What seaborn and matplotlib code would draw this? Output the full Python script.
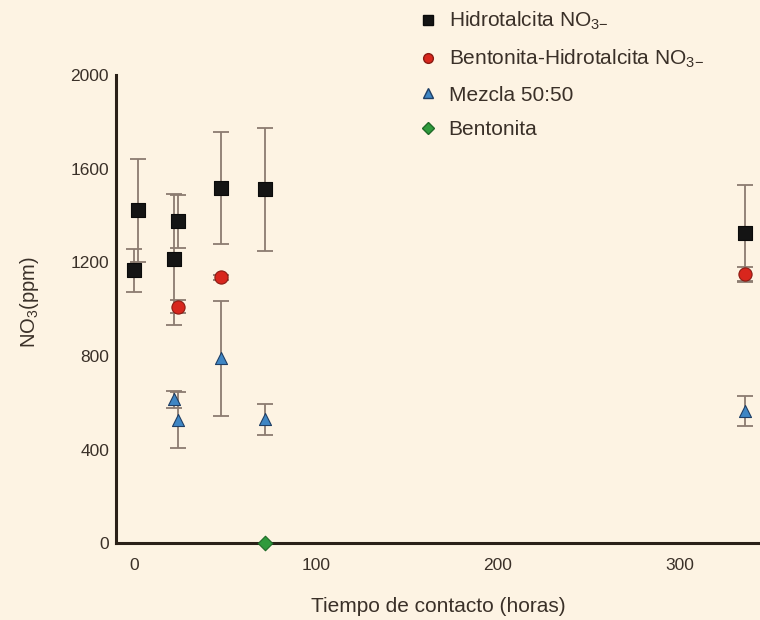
import numpy as np
import pandas as pd
import matplotlib
matplotlib.use("Agg")
import matplotlib.pyplot as plt
import seaborn as sns
from matplotlib.lines import Line2D

# ---- data ----
hidro_t = [0, 2, 22, 24, 48, 72, 336]
hidro_v = [1165, 1423, 1212, 1376, 1518, 1511, 1323]
hidro_e = [90, 220, 280, 113, 240, 262, 207]

bhidro_t = [24, 48, 336]
bhidro_v = [1010, 1135, 1150]
bhidro_e = [28, 10, 30]

mezcla_t = [22, 24, 48, 72, 336]
mezcla_v = [614, 526, 789, 529, 565]
mezcla_e = [35, 120, 245, 66, 64]

bento_t = [72]
bento_v = [0]
bento_e = [0]

labels = [r"Hidrotalcita NO$_{3\mathrm{-}}$",
          r"Bentonita-Hidrotalcita NO$_{3\mathrm{-}}$",
          "Mezcla 50:50",
          "Bentonita"]
xticks = [0, 100, 200, 300]
yticks = [0, 400, 800, 1200, 1600, 2000]

bg = "#fdf3e3"
sns.set_theme(style="white")
plt.rcParams['font.family'] = ['Liberation Sans', 'DejaVu Sans']
plt.rcParams['mathtext.fontset'] = 'custom'
plt.rcParams['mathtext.rm'] = 'Liberation Sans'
plt.rcParams['mathtext.it'] = 'Liberation Sans'
plt.rcParams['mathtext.bf'] = 'Liberation Sans'

frames = []
for lab, t, v, e in zip(labels,
                        [hidro_t, bhidro_t, mezcla_t, bento_t],
                        [hidro_v, bhidro_v, mezcla_v, bento_v],
                        [hidro_e, bhidro_e, mezcla_e, bento_e]):
    frames.append(pd.DataFrame({"t": t, "v": v, "e": e, "serie": lab}))
df = pd.concat(frames, ignore_index=True)

colors = {labels[0]: "#141414", labels[1]: "#d8261d",
          labels[2]: "#3f86c4", labels[3]: "#2f9a3c"}
edges = {labels[0]: "#0a0a0a", labels[1]: "#8a1a12",
         labels[2]: "#1f3f66", labels[3]: "#1f6a28"}
markers = {labels[0]: "s", labels[1]: "o", labels[2]: "^", labels[3]: "D"}
sizes = {labels[0]: 90, labels[1]: 90, labels[2]: 75, labels[3]: 55}

fig = plt.figure(figsize=(7.6, 6.2), dpi=100, facecolor=bg)
ax = fig.add_axes([0.1526, 0.124, 0.8474, 0.755])
ax.set_facecolor(bg)

ebc = "#8c7b70"
for lab in labels:
    sub = df[df.serie == lab]
    sub_e = sub[sub.e > 0]
    if len(sub_e):
        ax.errorbar(sub_e.t, sub_e.v, yerr=sub_e.e, fmt="none", ecolor=ebc,
                    elinewidth=1.3, capsize=6, capthick=1.3, zorder=2)

for lab in labels:
    sub = df[df.serie == lab]
    sns.scatterplot(data=sub, x="t", y="v", marker=markers[lab], s=sizes[lab],
                    color=colors[lab], edgecolor=edges[lab], linewidth=0.8,
                    ax=ax, zorder=3, clip_on=False, legend=False)

ax.set_xlim(-10, 344)
ax.set_ylim(0, 2000)
ax.set_xticks(xticks)
ax.set_yticks(yticks)
ax.tick_params(axis="both", labelsize=12.5, colors="#2a2018", length=4,
               width=1, labelcolor="#3a3028")
ax.tick_params(axis="x", pad=7)
ax.tick_params(axis="y", pad=1)
for s in ["top", "right"]:
    ax.spines[s].set_visible(False)
for s in ["left", "bottom"]:
    ax.spines[s].set_color("#2a2018")
    ax.spines[s].set_linewidth(2.2)

ax.set_xlabel("Tiempo de contacto (horas)", fontsize=15, color="#3a3028",
              labelpad=17)
ax.set_ylabel(r"NO$_3$(ppm)", fontsize=14.5, color="#3a3028")
ax.yaxis.set_label_coords(-0.117, 0.515)

handles = [Line2D([], [], linestyle="none", marker=markers[l],
                  markerfacecolor=colors[l], markeredgecolor=edges[l],
                  markersize=7 if markers[l] != "D" else 6, label=l)
           for l in labels]
leg = ax.legend(handles=handles, loc="upper left",
                bbox_to_anchor=(0.541, 0.997), bbox_transform=fig.transFigure,
                frameon=False, fontsize=15, handlelength=0.8,
                handletextpad=0.6, labelspacing=0.74, borderaxespad=0.0)
for txt in leg.get_texts():
    txt.set_color("#3a3028")

fig.savefig("out.png", dpi=100, facecolor=bg)
